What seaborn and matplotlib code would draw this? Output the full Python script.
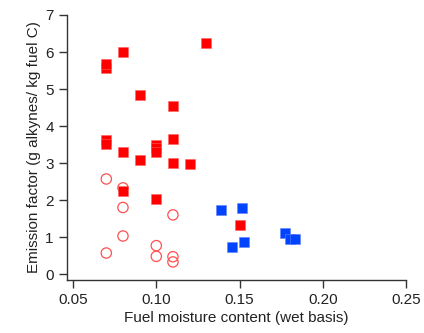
import matplotlib
matplotlib.use("Agg")
import matplotlib.pyplot as plt
import pandas as pd
import numpy as np
import seaborn as sns

# red filled squares
red_x = [0.07, 0.07, 0.08, 0.09, 0.11, 0.13, 0.07, 0.07, 0.11, 0.08, 0.10, 0.10,
         0.10, 0.09, 0.11, 0.12, 0.08, 0.10, 0.15]
red_y = [5.58, 5.68, 6.01, 4.84, 4.53, 6.23, 3.63, 3.52, 3.65, 3.29, 3.50, 3.42,
         3.30, 3.07, 3.00, 2.97, 2.25, 2.04, 1.32]

# red open circles
open_x = [0.07, 0.08, 0.08, 0.11, 0.08, 0.10, 0.07, 0.10, 0.11, 0.11]
open_y = [2.57, 2.33, 1.80, 1.60, 1.03, 0.77, 0.57, 0.48, 0.47, 0.33]

# blue filled squares
blue_x = [0.139, 0.1516, 0.1456, 0.1528, 0.177, 0.180, 0.1833]
blue_y = [1.74, 1.78, 0.72, 0.87, 1.12, 0.96, 0.96]

sns.set_style("ticks")
plt.rcParams["font.family"] = ["Liberation Sans", "DejaVu Sans"]

fig = plt.figure(figsize=(4.24, 3.33), dpi=100)
ax = fig.add_axes([0.158, 0.159, 0.8, 0.796])

sns.scatterplot(x=open_x, y=open_y, ax=ax, marker="o", s=55,
                facecolors="none", edgecolor="#ff5050", linewidth=0.9)
sns.scatterplot(x=red_x, y=red_y, ax=ax, marker="s", s=48,
                color="#ff0000", edgecolor="#ff6060", linewidth=0.4)
sns.scatterplot(x=blue_x, y=blue_y, ax=ax, marker="s", s=48,
                color="#0044ff", edgecolor="#6080ff", linewidth=0.4)

ax.set_xlim(0.0464, 0.25)
ax.set_ylim(-0.16, 7)
ax.set_xticks([0.05, 0.10, 0.15, 0.20, 0.25])
ax.set_xticklabels(["0.05", "0.10", "0.15", "0.20", "0.25"])
ax.set_yticks(range(0, 8))
ax.tick_params(direction="out", length=6, width=1, colors="#333333",
               labelsize=11, labelcolor="#222222")
for side in ["top", "right"]:
    ax.spines[side].set_visible(False)
for side in ["left", "bottom"]:
    ax.spines[side].set_color("#333333")
    ax.spines[side].set_linewidth(1)

ax.set_xlabel("Fuel moisture content (wet basis)", fontsize=11, color="#222222",
              labelpad=3)
ax.set_ylabel("Emission factor (g alkynes/ kg fuel C)", fontsize=11, color="#222222",
              labelpad=3)

fig.savefig("out.png", dpi=100)
